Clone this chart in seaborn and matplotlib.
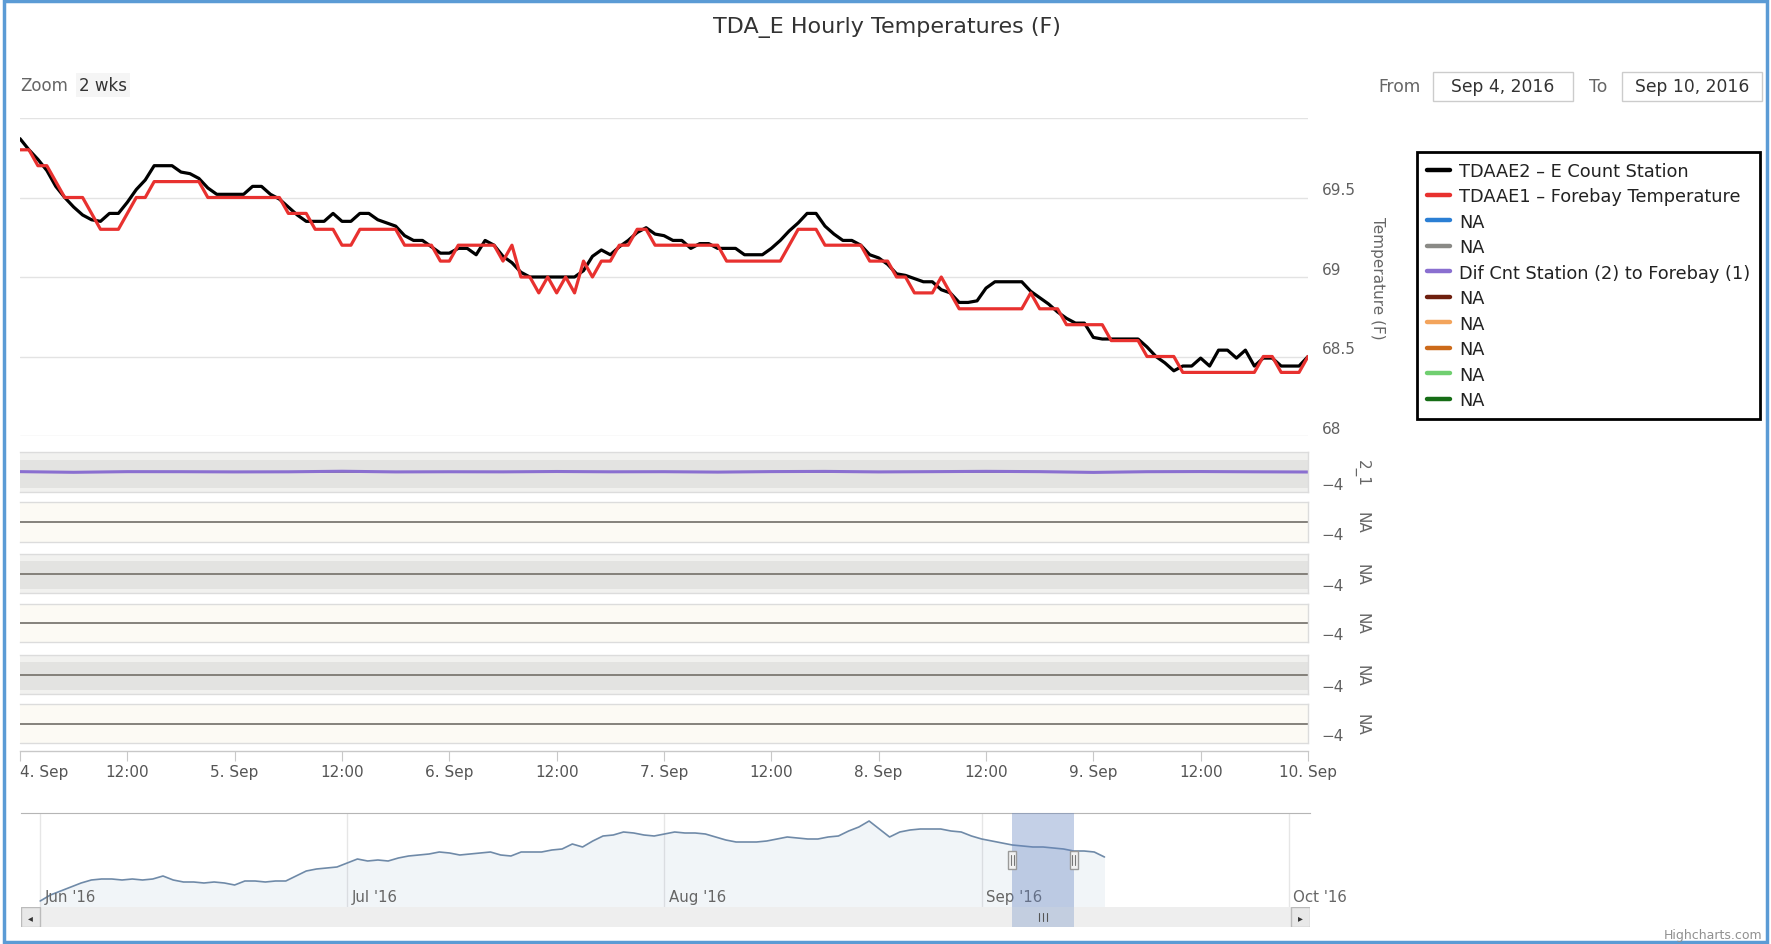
import matplotlib
matplotlib.use('Agg')
import matplotlib.pyplot as plt
import matplotlib.dates as mdates
from matplotlib import font_manager
from matplotlib.lines import Line2D
from matplotlib.patches import Rectangle
from matplotlib.transforms import blended_transform_factory
import numpy as np
import pandas as pd
import seaborn as sns

# ---- data ----
start_time = '2016-09-04 00:00'
cnt_station = [
    69.87, 69.80, 69.74, 69.67, 69.57, 69.50, 69.44, 69.39, 69.36, 69.35,
    69.40, 69.40, 69.47, 69.55, 69.61, 69.70, 69.70, 69.70, 69.66, 69.65,
    69.62, 69.56, 69.52, 69.52, 69.52, 69.52, 69.57, 69.57, 69.52, 69.49,
    69.44, 69.39, 69.35, 69.35, 69.35, 69.40, 69.35, 69.35, 69.40, 69.40,
    69.36, 69.34, 69.32, 69.26, 69.23, 69.23, 69.19, 69.15, 69.15, 69.18,
    69.18, 69.14, 69.23, 69.20, 69.13, 69.09, 69.03, 69.00, 69.00, 69.00,
    69.00, 69.00, 69.00, 69.04, 69.13, 69.17, 69.14, 69.19, 69.23, 69.28,
    69.31, 69.27, 69.26, 69.23, 69.23, 69.18, 69.21, 69.21, 69.18, 69.18,
    69.18, 69.14, 69.14, 69.14, 69.18, 69.23, 69.29, 69.34, 69.40, 69.40,
    69.32, 69.27, 69.23, 69.23, 69.20, 69.14, 69.12, 69.08, 69.02, 69.01,
    68.99, 68.97, 68.97, 68.92, 68.90, 68.84, 68.84, 68.85, 68.93, 68.97,
    68.97, 68.97, 68.97, 68.91, 68.87, 68.83, 68.78, 68.74, 68.71, 68.71,
    68.62, 68.61, 68.61, 68.61, 68.61, 68.61, 68.56, 68.50, 68.46, 68.41,
    68.44, 68.44, 68.49, 68.44, 68.54, 68.54, 68.49, 68.54, 68.44, 68.49,
    68.49, 68.44, 68.44, 68.44, 68.50]
forebay = [
    69.8, 69.8, 69.7, 69.7, 69.6, 69.5, 69.5, 69.5, 69.4, 69.3,
    69.3, 69.3, 69.4, 69.5, 69.5, 69.6, 69.6, 69.6, 69.6, 69.6,
    69.6, 69.5, 69.5, 69.5, 69.5, 69.5, 69.5, 69.5, 69.5, 69.5,
    69.4, 69.4, 69.4, 69.3, 69.3, 69.3, 69.2, 69.2, 69.3, 69.3,
    69.3, 69.3, 69.3, 69.2, 69.2, 69.2, 69.2, 69.1, 69.1, 69.2,
    69.2, 69.2, 69.2, 69.2, 69.1, 69.2, 69.0, 69.0, 68.9, 69.0,
    68.9, 69.0, 68.9, 69.1, 69.0, 69.1, 69.1, 69.2, 69.2, 69.3,
    69.3, 69.2, 69.2, 69.2, 69.2, 69.2, 69.2, 69.2, 69.2, 69.1,
    69.1, 69.1, 69.1, 69.1, 69.1, 69.1, 69.2, 69.3, 69.3, 69.3,
    69.2, 69.2, 69.2, 69.2, 69.2, 69.1, 69.1, 69.1, 69.0, 69.0,
    68.9, 68.9, 68.9, 69.0, 68.9, 68.8, 68.8, 68.8, 68.8, 68.8,
    68.8, 68.8, 68.8, 68.9, 68.8, 68.8, 68.8, 68.7, 68.7, 68.7,
    68.7, 68.7, 68.6, 68.6, 68.6, 68.6, 68.5, 68.5, 68.5, 68.5,
    68.4, 68.4, 68.4, 68.4, 68.4, 68.4, 68.4, 68.4, 68.4, 68.5,
    68.5, 68.4, 68.4, 68.4, 68.5]
# difference panel, read every 6 hours
dif_values = [0.07, -0.06, 0.07, 0.06, 0.02, 0.04, 0.15, 0.02, 0.05, 0.03,
              0.10, 0.04, 0.06, -0.02, 0.08, 0.12, 0.02, 0.07, 0.13, 0.07,
              -0.08, 0.06, 0.09, 0.04, 0.00]
# navigator series, daily from 1 Jun 2016
nav_start = '2016-06-01'
nav_temps = [
    58.7, 59.9, 60.7, 61.5, 62.3, 62.9, 63.1, 63.1, 62.9, 63.1,
    62.9, 63.1, 63.7, 62.9, 62.5, 62.5, 62.3, 62.5, 62.3, 61.9,
    62.7, 62.7, 62.5, 62.7, 62.7, 63.7, 64.7, 65.1, 65.3, 65.5,
    66.3, 67.1, 66.7, 66.9, 66.7, 67.3, 67.7, 67.9, 68.1, 68.5,
    68.3, 67.9, 68.1, 68.3, 68.5, 67.9, 67.7, 68.5, np.nan, 68.5,
    68.9, 69.1, 70.1, 69.5, 70.7, 71.7, 71.9, 72.5, 72.3, 71.9,
    71.7, 72.1, 72.5, 72.3, 72.3, 72.1, 71.5, 70.9, 70.5, 70.5,
    70.5, 70.7, 71.1, 71.5, 71.3, 71.1, 71.1, 71.5, 71.7, 72.7,
    73.5, 74.7, 73.1, 71.5, 72.5, 72.9, 73.1, 73.1, 73.1, 72.7,
    72.5, 71.7, 71.1, 70.7, 70.3, 69.9, 69.7, 69.5, 69.5, 69.3,
    69.1, 68.7, 68.7, 68.5, 67.5]

main_ticks = [68, 68.5, 69, 69.5, 70]
main_tick_labels = ['68', '68.5', '69', '69.5', '']
x_tick_labels = ['4. Sep', '12:00', '5. Sep', '12:00', '6. Sep', '12:00', '7. Sep',
                 '12:00', '8. Sep', '12:00', '9. Sep', '12:00', '10. Sep']
panel_titles = ['2_1', 'NA', 'NA', 'NA', 'NA', 'NA']
month_labels = ["Jun '16", "Jul '16", "Aug '16", "Sep '16", "Oct '16"]
legend_labels = ['TDAAE2 – E Count Station', 'TDAAE1 – Forebay Temperature', 'NA', 'NA',
                 'Dif Cnt Station (2) to Forebay (1)', 'NA', 'NA', 'NA', 'NA', 'NA']
legend_colors = ['#000000', '#e8312f', '#2b7fd4', '#8a8a86', '#8a6fd0',
                 '#6e1f0e', '#f3a45c', '#cc6a1a', '#70cf70', '#166d16']

# ---- frames ----
hours = pd.date_range(start_time, periods=len(cnt_station), freq='h')
main_df = pd.DataFrame({'time': hours,
                        legend_labels[0]: cnt_station,
                        legend_labels[1]: forebay}).melt('time', var_name='series', value_name='temp')
dif_df = pd.DataFrame({'time': pd.date_range(start_time, periods=len(dif_values), freq='6h'),
                       'dif': dif_values})
nav_df = pd.DataFrame({'date': pd.date_range(nav_start, periods=len(nav_temps), freq='D'),
                       'temp': nav_temps})
tick_times = pd.date_range(hours[0], hours[-1], freq='12h')
month_starts = pd.date_range('2016-06-01', '2016-10-01', freq='MS')
sel_start, sel_end = hours[0], hours[-1]
nav_lo, nav_hi = pd.Timestamp('2016-05-30 03:00'), pd.Timestamp('2016-10-03 02:00')

W, H = 1771, 945


def box(x0, y0, x1, y1):
    return [x0 / W, 1 - y1 / H, (x1 - x0) / W, (y1 - y0) / H]


sns.set_style('white')
plt.rcParams['font.family'] = ['DejaVu Sans']
installed = {f.name for f in font_manager.fontManager.ttflist}
if 'Liberation Sans Narrow' in installed:
    narrow, narrow_size = ['Liberation Sans Narrow'], 11.5
else:
    narrow, narrow_size = ['DejaVu Sans'], 10.8

fig = plt.figure(figsize=(W / 100, H / 100), dpi=100)

# ---- main temperature panel ----
ax = fig.add_axes(box(20, 119, 1308, 437))
sns.lineplot(data=main_df, x='time', y='temp', hue='series', hue_order=legend_labels[:2],
             palette=legend_colors[:2], linewidth=2.3, estimator=None, legend=False, ax=ax)
ax.set_ylim(68, 70)
ax.yaxis.tick_right()
ax.set_yticks(main_ticks)
ax.set_yticklabels(main_tick_labels)
for lbl in ax.get_yticklabels():
    lbl.set_va('bottom')
ax.tick_params(axis='y', length=0, pad=10, labelsize=11, labelcolor='#606060')
ax.tick_params(axis='x', bottom=False, labelbottom=False)
ax.grid(axis='y', color='#e3e3e3', lw=1)
ax.grid(axis='x', visible=False)
for s in ax.spines.values():
    s.set_visible(False)
ax.set_xlabel('')
ax.set_ylabel('')
ax.text(1.054, 0.5, 'Temperature (F)', transform=ax.transAxes, rotation=270,
        ha='center', va='center', fontsize=11, color='#666666')

# ---- small panels ----
panel_rows = [(453, 493), (503, 543), (555, 594), (605, 643), (656, 695), (705, 744)]
for i, (top, bot) in enumerate(panel_rows):
    pax = fig.add_axes(box(20, top, 1308, bot), sharex=ax)
    shaded = i % 2 == 0
    pax.set_facecolor('#f1f1ef' if shaded else '#fcfaf4')
    if shaded:
        pax.axhspan(-3.2, 2.5, color='#e3e3e1', lw=0, zorder=0)
    pax.axhline(0, color='#7b7872', lw=1.3, zorder=1)
    if i == 0:
        sns.lineplot(data=dif_df, x='time', y='dif', color=legend_colors[4],
                     linewidth=2.2, estimator=None, ax=pax)
    pax.set_ylim(-4, 4)
    pax.yaxis.tick_right()
    pax.set_yticks([-4])
    pax.set_yticklabels(['−4'])
    for lbl in pax.get_yticklabels():
        lbl.set_va('bottom')
    pax.tick_params(axis='y', length=0, pad=10, labelsize=11, labelcolor='#606060')
    pax.set_xlabel('')
    pax.set_ylabel('')
    pax.spines['left'].set_visible(False)
    for side in ['top', 'bottom', 'right']:
        pax.spines[side].set_color('#dcdcdc')
        pax.spines[side].set_linewidth(1)
    pax.text(1.042, 0.5, panel_titles[i], transform=pax.transAxes, rotation=270,
             ha='center', va='center', fontsize=11, color='#666666')
    if i < len(panel_rows) - 1:
        pax.tick_params(axis='x', bottom=False, labelbottom=False)
    else:
        pax.axhline(-4, color='#dcdcdc', lw=1, clip_on=False)
        pax.spines['bottom'].set_position(('outward', 6))
        pax.spines['bottom'].set_color('#c8c8c8')
        pax.set_xticks(tick_times)
        pax.set_xticklabels(x_tick_labels)
        pax.tick_params(axis='x', bottom=True, length=7, color='#c8c8c8', labelsize=11,
                        labelcolor='#555555', pad=2)
        pax.get_xticklabels()[0].set_ha('left')
ax.set_xlim(sel_start, sel_end)

# ---- navigator ----
nav = fig.add_axes(box(21, 814, 1310, 908))
sns.lineplot(data=nav_df, x='date', y='temp', color='#6f8aa8', linewidth=1.2, ax=nav)
valid = nav_df.dropna()
nav.fill_between(valid['date'], valid['temp'], 57.5, color='#4572a7', alpha=0.07, lw=0)
nav.set_ylim(57.5, 76.3)
nav.set_xticks(month_starts)
nav.grid(axis='x', color='#e6e6e6', lw=1)
nav.grid(axis='y', visible=False)
nav.tick_params(length=0, labelbottom=False, labelleft=False)
nav.set_xlabel('')
nav.set_ylabel('')
for side in ['left', 'right', 'bottom']:
    nav.spines[side].set_visible(False)
nav.spines['top'].set_color('#b5b5b5')
bt = blended_transform_factory(nav.transData, nav.transAxes)
for m, lab in zip(month_starts, month_labels):
    nav.text(mdates.date2num(m) + 0.45, 0.11, lab, transform=bt, ha='left', va='center',
             fontsize=narrow_size, color='#666666', family=narrow)
nav.axvspan(sel_start, sel_end, color=(0.4, 0.52, 0.76), alpha=0.38, lw=0, zorder=3)
for t in [sel_start, sel_end]:
    xn = mdates.date2num(t)
    nav.add_patch(Rectangle((xn - 0.4, 0.404), 0.8, 0.192, transform=bt, facecolor='#f2f2f2',
                            edgecolor='#9a9a9a', lw=1, zorder=5))
    for dx in [-0.13, 0.13]:
        nav.plot([xn + dx, xn + dx], [0.45, 0.55], transform=bt, color='#777777', lw=0.8, zorder=6)

# ---- scrollbar ----
sb = fig.add_axes(box(21, 908, 1310, 928), sharex=nav)
sb.set_facecolor('#eeeeee')
sb.axvspan(sel_start, sel_end, color='#c3cee0', lw=0)
mid = mdates.date2num(sel_start) + (mdates.date2num(sel_end) - mdates.date2num(sel_start)) / 2
sbt = blended_transform_factory(sb.transData, sb.transAxes)
for dx in [-0.35, 0, 0.35]:
    sb.plot([mid + dx, mid + dx], [0.3, 0.7], transform=sbt, color='#555555', lw=0.8)
bw = 19 / 1289
for x0 in [0, 1 - bw]:
    sb.add_patch(Rectangle((x0, 0.0), bw, 1.0, transform=sb.transAxes, facecolor='#e8e8e8',
                           edgecolor='#bbbbbb', lw=1, zorder=4))
sb.text(bw / 2, 0.5, '◂', transform=sb.transAxes, ha='center', va='center', fontsize=7, color='#333333', zorder=5)
sb.text(1 - bw / 2, 0.5, '▸', transform=sb.transAxes, ha='center', va='center', fontsize=7, color='#333333', zorder=5)
sb.set_ylim(0, 1)
sb.tick_params(length=0, labelbottom=False, labelleft=False)
sb.grid(False)
for s in sb.spines.values():
    s.set_visible(False)
nav.set_xlim(nav_lo, nav_hi)

# ---- header texts ----
fig.text(887 / W, 1 - 28 / H, 'TDA_E Hourly Temperatures (F)', ha='center', va='center',
         fontsize=16, color='#333333')
fig.text(20 / W, 1 - 86 / H, 'Zoom', ha='left', va='center', fontsize=12, color='#666666')
fig.text(79 / W, 1 - 86 / H, '2 wks', ha='left', va='center', fontsize=12, color='#333333',
         bbox=dict(facecolor='#f5f5f5', edgecolor='none', pad=2))
fig.text(1378 / W, 1 - 87 / H, 'From', ha='left', va='center', fontsize=12.3, color='#666666')
fig.text(1589 / W, 1 - 87 / H, 'To', ha='left', va='center', fontsize=12.3, color='#666666')
for x0, x1, txt in [(1433, 1573, 'Sep 4, 2016'), (1622, 1762, 'Sep 10, 2016')]:
    fig.add_artist(Rectangle((x0 / W, 1 - 102 / H), (x1 - x0) / W, 29 / H, transform=fig.transFigure,
                             fill=False, edgecolor='#cccccc', lw=1))
    fig.text((x0 + x1) / 2 / W, 1 - 87 / H, txt, ha='center', va='center', fontsize=12.3, color='#333333')

# ---- legend ----
handles = [Line2D([], [], color=c, lw=3.2) for c in legend_colors]
leg = fig.legend(handles, legend_labels, loc='upper left', bbox_to_anchor=(1417 / W, 1 - 153 / H),
                 fontsize=12.8, frameon=True, fancybox=False, edgecolor='black', framealpha=1,
                 borderpad=0.55, labelspacing=0.42, handlelength=1.3, handletextpad=0.5,
                 borderaxespad=0)
leg.get_frame().set_linewidth(2)
for t in leg.get_texts():
    t.set_color('#222222')

fig.text(1762 / W, 1 - 936 / H, 'Highcharts.com', ha='right', va='center', fontsize=9,
         color='#909090', family=narrow)
fig.add_artist(Rectangle((0.002, 0.002), 0.996, 0.996, transform=fig.transFigure, fill=False,
                         edgecolor='#5b9bd5', lw=2.5))

fig.savefig('out.png', dpi=100)
